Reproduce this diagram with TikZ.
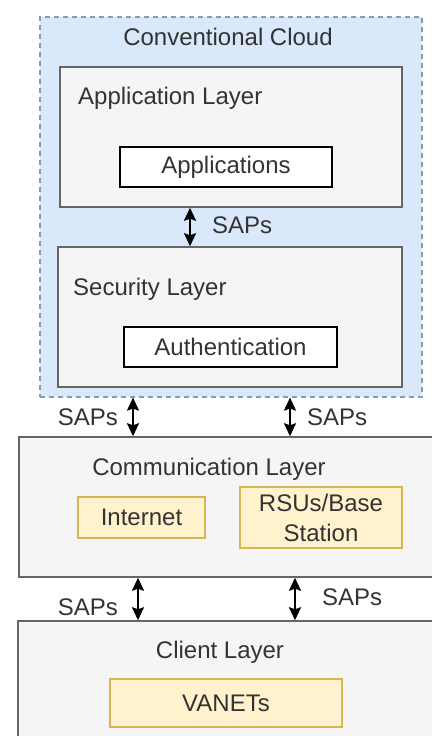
\documentclass[tikz,border=0pt]{standalone}
\usepackage{fontspec}
\setmainfont{Liberation Sans}
\usetikzlibrary{arrows.meta}
\definecolor{cloudfill}{HTML}{DAE8FC}
\definecolor{clouddraw}{HTML}{8A9BB0}
\definecolor{layerfill}{HTML}{F5F5F5}
\definecolor{layerdraw}{HTML}{666666}
\definecolor{yelfill}{HTML}{FFF2CC}
\definecolor{yeldraw}{HTML}{D6B656}
\definecolor{txt}{HTML}{333333}
\tikzset{
  x=1pt,y=1pt,
  every node/.style={font=\fontsize{24}{30}\selectfont, text=txt},
  cloudbox/.style={draw=clouddraw, fill=cloudfill, dash pattern=on 5pt off 4pt, line width=1.2pt, inner sep=0pt},
  layerbox/.style={draw=layerdraw, fill=layerfill, line width=1.5pt, inner sep=0pt},
  whitebox/.style={draw=black, fill=white, line width=1.5pt, inner sep=0pt},
  yelbox/.style={draw=yeldraw, fill=yelfill, line width=1.2pt, inner sep=0pt, align=center},
  title/.style={inner sep=0pt},
  sap/.style={{Stealth[length=13pt,width=12pt,inset=2pt]}-{Stealth[length=13pt,width=12pt,inset=2pt]}, line width=2pt, black},
}
\begin{document}
\begin{tikzpicture}
\useasboundingbox (0,0) rectangle (431,-736);
% containers
\node[cloudbox, minimum width=382, minimum height=380] (cloud) at (231,-207) {};
\node[layerbox, minimum width=342, minimum height=140] (app) at (231,-137) {};
\node[layerbox, minimum width=344, minimum height=140] (sec) at (230,-317) {};
\node[layerbox, minimum width=415, minimum height=140] (comm) at (226.5,-507) {};
\node[layerbox, minimum width=417, minimum height=121] (client) at (226.5,-681.5) {};
% inner boxes
\node[whitebox, minimum width=212, minimum height=40] (apps) at (226,-167) {Applications};
\node[whitebox, minimum width=213, minimum height=40] (auth) at (230.5,-347) {Authentication};
\node[yelbox, minimum width=127, minimum height=41] (inet) at (141.5,-517.5) {Internet};
\node[yelbox, minimum width=162, minimum height=61] (rsu) at (321,-517.5) {RSUs/Base\\Station};
\node[yelbox, minimum width=232, minimum height=48] (vanet) at (226,-703) {VANETs};
% titles
\node[title, anchor=base] (tcloud) at (228,-45) {Conventional Cloud};
\node[title, anchor=base west] (tapp) at (78,-104) {Application Layer};
\node[title, anchor=base west] (tsec) at (73,-295) {Security Layer};
\node[title, anchor=base] (tcomm) at (209,-475) {Communication Layer};
\node[title, anchor=base] (tclient) at (220,-658) {Client Layer};
% arrow positions
\coordinate (x1) at (190,0);
\coordinate (x2) at (133,0);
\coordinate (x3) at (290,0);
\coordinate (x4) at (138,0);
\coordinate (x5) at (295,0);
% connectors
\draw[sap] (app.south -| x1) -- (sec.north -| x1);
\draw[sap] (cloud.south -| x2) -- (comm.north -| x2);
\draw[sap] (cloud.south -| x3) -- (comm.north -| x3);
\draw[sap] (comm.south -| x4) -- (client.north -| x4);
\draw[sap] (comm.south -| x5) -- (client.north -| x5);
% labels
\node[title, anchor=base west] (s1) at (212,-233) {SAPs};
\node[title, anchor=base east] (s2) at (118,-425) {SAPs};
\node[title, anchor=base west] (s3) at (307,-425) {SAPs};
\node[title, anchor=base east] (s4) at (118,-615) {SAPs};
\node[title, anchor=base west] (s5) at (322,-605) {SAPs};
\end{tikzpicture}
\end{document}
